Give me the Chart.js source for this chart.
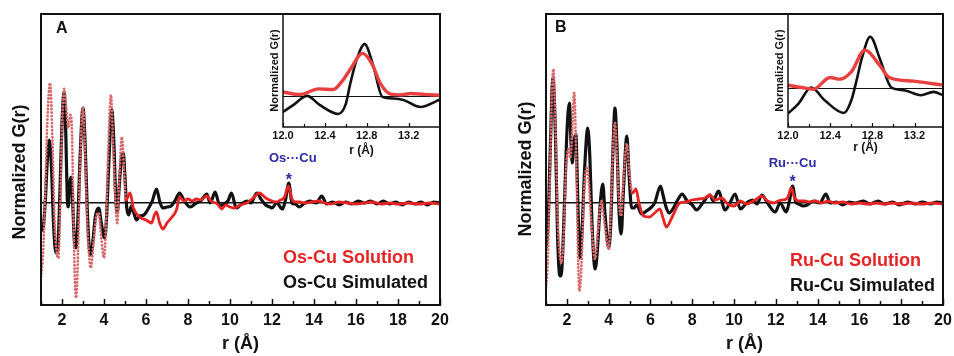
<!DOCTYPE html>
<html>
<head>
<meta charset="utf-8">
<script src="https://cdn.jsdelivr.net/npm/chart.js@4.4.1/dist/chart.umd.min.js"></script>
<style>
  body { margin: 0; background: #fff; }
  #wrap { position: relative; width: 954px; height: 356px; overflow: hidden; }
  canvas { position: absolute; }
</style>
</head>
<body>
<div id="wrap">
  <canvas id="mainA" width="477" height="356" style="left:0;top:0"></canvas>
  <canvas id="mainB" width="477" height="356" style="left:477px;top:0"></canvas>
  <canvas id="insetA" width="182" height="156" style="left:262px;top:4px"></canvas>
  <canvas id="insetB" width="180" height="156" style="left:767px;top:4px"></canvas>
</div>
<script>
// Os-Cu: simulated G(r)
const rSimA = [1.0,1.1,1.2,1.3,1.4,1.5,1.6,1.71,1.8,1.9,
  2.0,2.1,2.18,2.25,2.3,2.36,2.43,2.5,2.58,2.67,
  2.75,2.85,3.0,3.1,3.2,3.3,3.37,3.45,3.6,3.75,
  3.87,4.03,4.12,4.22,4.37,4.47,4.55,4.63,4.72,4.83,
  4.92,5.0,5.08,5.18,5.3,5.42,5.55,5.7,5.9,6.1,
  6.3,6.5,6.65,6.8,7.0,7.2,7.4,7.6,7.8,8.1,
  8.4,8.6,8.9,9.05,9.15,9.29,9.52,9.7,9.9,10.07,
  10.3,10.5,10.8,11.0,11.27,11.5,11.7,11.9,12.0,12.22,
  12.5,12.65,12.8,12.95,13.1,13.3,13.5,13.8,14.1,14.37,
  14.6,14.9,15.2,15.5,15.8,16.1,16.4,16.7,17.0,17.3,
  17.6,17.9,18.2,18.5,18.8,19.1,19.4,19.7,20.0];
const gSimA = [-0.28,-0.25,0.0,0.42,0.63,0.35,-0.22,-0.5,-0.45,0.1,
  0.8,1.11,0.7,0.05,-0.04,0.18,0.26,0.05,-0.35,-0.45,
  -0.2,0.4,0.95,0.6,-0.05,-0.45,-0.52,-0.42,-0.12,-0.05,
  -0.2,-0.35,-0.15,0.35,0.93,0.6,0.1,-0.1,0.15,0.45,
  0.5,0.25,-0.04,-0.12,-0.03,-0.1,-0.17,-0.13,-0.12,-0.06,
  0.02,0.14,0.02,-0.05,-0.04,-0.03,0.03,0.1,0.03,-0.04,
  0.0,0.02,0.09,0.0,0.04,0.11,-0.03,-0.01,0.02,0.1,
  -0.05,-0.02,0.02,0.0,0.1,0.03,-0.02,-0.04,-0.05,0.0,
  -0.06,0.04,0.2,0.0,-0.01,-0.04,-0.01,0.02,0.0,0.07,
  -0.01,0.01,-0.02,0.01,-0.01,0.02,0.0,0.02,-0.01,0.02,
  -0.01,0.01,-0.02,0.01,-0.01,0.01,-0.02,0.01,0.0];

// Os-Cu: solution (measured) G(r)
const rExpA = [1.0,1.1,1.2,1.3,1.43,1.55,1.65,1.75,1.83,1.92,
  2.0,2.1,2.2,2.3,2.4,2.47,2.55,2.62,2.67,2.75,
  2.85,3.0,3.1,3.2,3.3,3.37,3.5,3.65,3.75,3.87,
  4.0,4.1,4.2,4.33,4.43,4.55,4.63,4.72,4.85,4.95,
  5.05,5.24,5.4,5.7,6.0,6.27,6.4,6.5,6.65,6.8,
  7.0,7.2,7.45,7.6,7.8,8.0,8.2,8.4,8.6,8.9,
  9.1,9.4,9.6,9.8,10.0,10.2,10.5,10.8,11.1,11.4,
  11.7,12.0,12.2,12.4,12.6,12.78,12.95,13.1,13.3,13.6,
  13.9,14.2,14.5,14.8,15.2,15.6,16.0,16.4,16.8,17.2,
  17.6,18.0,18.5,19.0,19.5,20.0];
const gExpA = [-0.74,-0.5,0.1,0.8,1.2,0.6,-0.2,-0.5,-0.55,0.0,
  0.75,1.14,0.95,0.75,0.88,0.75,-0.2,-0.8,-0.95,-0.6,
  0.3,0.95,0.5,-0.2,-0.55,-0.65,-0.4,-0.12,-0.1,-0.35,
  -0.55,-0.2,0.5,1.08,0.6,0.0,-0.2,0.2,0.66,0.35,
  0.03,0.1,-0.05,-0.14,-0.17,-0.2,-0.12,-0.09,-0.2,-0.26,
  -0.2,-0.15,-0.07,0.06,0.02,0.04,0.02,0.04,0.03,0.07,
  0.02,-0.01,-0.06,-0.02,-0.04,-0.05,-0.02,0.0,0.05,0.1,
  0.05,0.02,0.01,0.03,0.06,0.17,0.04,0.01,0.01,0.0,
  0.01,0.02,0.0,-0.01,0.01,0.0,-0.01,0.0,0.01,-0.01,
  0.0,-0.01,0.0,-0.01,0.0,-0.01];

// Ru-Cu: simulated G(r)
const rSimB = [1.0,1.1,1.2,1.33,1.45,1.55,1.65,1.72,1.8,1.9,
  2.0,2.12,2.2,2.26,2.33,2.43,2.5,2.58,2.63,2.72,
  2.85,3.0,3.1,3.2,3.35,3.45,3.6,3.72,3.82,4.0,
  4.1,4.2,4.3,4.4,4.5,4.6,4.7,4.87,4.97,5.1,
  5.2,5.35,5.57,5.8,6.0,6.2,6.48,6.6,6.76,6.9,
  7.1,7.3,7.52,7.75,8.0,8.2,8.5,8.85,9.0,9.25,
  9.57,9.8,10.05,10.3,10.6,10.9,11.1,11.33,11.6,11.97,
  12.2,12.5,12.65,12.8,12.95,13.1,13.3,13.5,13.8,14.1,
  14.4,14.6,14.9,15.2,15.5,15.8,16.2,16.5,16.9,17.2,
  17.6,17.9,18.3,18.7,19.0,19.4,19.7,20.0];
const gSimB = [-0.45,-0.2,0.5,1.25,0.7,-0.3,-0.72,-0.73,-0.5,0.1,
  0.7,1.0,0.6,0.4,0.6,0.69,0.2,-0.4,-0.55,-0.3,
  0.35,0.75,0.45,-0.2,-0.66,-0.5,0.0,0.19,-0.1,-0.45,
  -0.2,0.5,0.95,0.55,-0.1,-0.31,0.1,0.67,0.3,-0.05,
  -0.05,-0.02,-0.11,-0.08,-0.05,0.0,0.17,0.08,-0.05,-0.1,
  -0.05,0.03,0.09,0.02,-0.02,-0.07,0.0,0.08,0.02,0.12,
  -0.07,0.0,0.09,-0.06,0.0,0.03,-0.01,0.08,0.0,-0.09,
  0.0,-0.09,0.02,0.17,0.01,-0.01,-0.03,-0.02,0.02,0.0,
  0.09,0.0,0.01,-0.02,0.01,0.0,0.02,-0.01,0.02,-0.01,
  0.01,-0.02,0.01,-0.01,0.01,-0.01,0.01,0.0];

// Ru-Cu: solution (measured) G(r)
const rExpB = [1.0,1.08,1.18,1.27,1.35,1.45,1.55,1.65,1.75,1.85,
  1.95,2.08,2.17,2.25,2.35,2.45,2.53,2.6,2.7,2.82,
  2.95,3.05,3.2,3.35,3.5,3.65,3.8,4.0,4.1,4.2,
  4.3,4.4,4.5,4.6,4.7,4.87,4.97,5.14,5.3,5.45,
  5.66,5.95,6.2,6.45,6.6,6.76,7.06,7.4,7.7,8.0,
  8.3,8.6,8.85,9.1,9.4,9.7,10.0,10.3,10.6,11.0,
  11.33,11.6,11.9,12.1,12.3,12.5,12.6,12.73,12.9,13.1,
  13.4,13.6,13.9,14.2,14.5,14.8,15.2,15.6,16.0,16.4,
  16.8,17.2,17.6,18.0,18.5,19.0,19.5,20.0];
const gExpB = [-0.85,-0.6,0.2,1.0,1.34,0.8,-0.1,-0.5,-0.6,-0.3,
  0.3,0.54,0.45,0.7,1.1,0.4,-0.5,-0.88,-0.6,0.1,
  0.35,0.2,-0.3,-0.56,-0.25,0.02,-0.2,-0.46,-0.1,0.5,
  0.8,0.45,0.0,-0.13,0.2,0.59,0.35,0.1,0.14,0.0,
  -0.13,-0.14,-0.1,-0.06,-0.15,-0.24,-0.13,0.0,0.01,0.03,
  0.04,0.05,0.08,0.03,0.05,-0.01,-0.03,0.02,-0.01,0.03,
  0.07,0.02,0.0,0.02,0.03,0.04,0.07,0.15,0.05,0.02,
  0.02,0.01,0.02,0.0,0.02,0.0,0.01,-0.01,0.0,-0.01,
  0.0,-0.01,0.0,-0.01,0.0,-0.01,0.0,-0.01];

// close-up of the 12-13.5 A region (own scale)
const rInSimA = [12.0,12.1,12.23,12.35,12.53,12.6,12.64,12.7,12.78,12.86,12.95,13.06,13.15,13.31,13.5];
const gInSimA = [-0.15,-0.08,0.01,-0.08,-0.17,-0.07,0.12,0.36,0.527,0.32,0.0,-0.016,-0.03,-0.10,-0.026];
const rInExpA = [12.0,12.16,12.34,12.48,12.56,12.64,12.76,12.85,12.93,13.03,13.12,13.22,13.35,13.5];
const gInExpA = [0.05,0.024,0.08,0.074,0.15,0.27,0.434,0.33,0.134,0.027,0.02,0.034,0.025,0.017];
const rInSimB = [12.0,12.1,12.22,12.35,12.53,12.6,12.65,12.7,12.78,12.87,12.98,13.1,13.26,13.38,13.47];
const gInSimB = [-0.25,-0.15,0.01,-0.12,-0.244,-0.12,0.08,0.3,0.516,0.3,0.01,-0.017,-0.067,-0.034,-0.067];
const rInExpB = [12.0,12.13,12.24,12.4,12.49,12.6,12.73,12.87,12.96,13.19,13.47];
const gInExpB = [0.033,0.01,-0.007,0.11,0.093,0.166,0.383,0.23,0.11,0.073,0.033];

const FONT = "'Liberation Sans', Arial, sans-serif";
const INK = '#111';
const RED = '#e62424';
const PINK = '#d8686a';
const BLUE = '#2b2ba6';

Chart.defaults.font.family = FONT;
Chart.defaults.color = INK;

const pts = (rs, gs) => rs.map((r, i) => ({ x: r, y: gs[i] }));

// box round the plot area
const frame = {
  id: 'frame',
  afterDatasetsDraw(chart, args, o) {
    const { ctx, chartArea: a } = chart;
    ctx.save();
    ctx.strokeStyle = INK;
    ctx.lineWidth = o.width;
    ctx.strokeRect(a.left, a.top, a.right - a.left, a.bottom - a.top);
    ctx.restore();
  }
};

// tick marks pointing into the plot
const inTicks = {
  id: 'inTicks',
  afterDatasetsDraw(chart, args, o) {
    const { ctx, chartArea: a, scales: { x } } = chart;
    ctx.save();
    ctx.strokeStyle = INK;
    ctx.lineWidth = o.width;
    x.ticks.forEach(t => {
      const q = t.value / o.step;
      if (Math.abs(q - Math.round(q)) > 1e-6) return;
      const len = Math.round(q) % 2 === 0 ? o.major : o.minor;
      const px = Math.round(x.getPixelForValue(t.value)) + 0.5;
      ctx.beginPath();
      ctx.moveTo(px, a.bottom);
      ctx.lineTo(px, a.bottom - len);
      ctx.stroke();
    });
    ctx.restore();
  }
};

// panel letter, y title, series names and the M...Cu marker
const panelText = {
  id: 'panelText',
  afterDraw(chart, args, o) {
    const { ctx, scales: { x, y } } = chart;
    ctx.save();
    ctx.fillStyle = INK;
    ctx.textBaseline = 'middle';
    ctx.textAlign = 'left';
    ctx.font = `bold 16px ${FONT}`;
    ctx.fillText(o.letter, o.letterX, o.letterY);

    ctx.save();
    ctx.translate(o.titleX, o.titleY);
    ctx.rotate(-Math.PI / 2);
    ctx.textAlign = 'center';
    ctx.font = `bold 18px ${FONT}`;
    ctx.fillText('Normalized G(r)', 0, 0);
    ctx.restore();

    ctx.font = `bold 18px ${FONT}`;
    chart.data.datasets.forEach((ds, i) => {
      ctx.fillStyle = ds.keyColor;
      ctx.fillText(ds.label, o.keyX, o.keyY + i * 25);
    });

    const px = x.getPixelForValue(o.noteR);
    ctx.fillStyle = BLUE;
    ctx.textAlign = 'center';
    ctx.font = `bold 13px ${FONT}`;
    ctx.fillText(o.note, px + o.noteDx, y.getPixelForValue(o.noteY));
    ctx.textBaseline = 'alphabetic';
    ctx.font = `bold 16px ${FONT}`;
    ctx.fillText('*', px, y.getPixelForValue(o.starY));
    ctx.restore();
  }
};

// keep the x axis from widening the side margins for its end labels
const noLabelMargins = s => { s.paddingLeft = 0; s.paddingRight = 0; };

function mainChart(id, sim, exp, cfg) {
  return new Chart(document.getElementById(id), {
    type: 'line',
    data: {
      datasets: [
        {
          label: cfg.expLabel, keyColor: RED, data: exp,
          borderColor: RED, borderWidth: 2.8, borderCapStyle: 'round',
          pointRadius: 0, cubicInterpolationMode: 'monotone',
          segment: {
            // below 5 A the measured points spread out into separate circles
            borderDash: c => exp[c.p0DataIndex].x < 5 ? [0.1, 3.4] : undefined,
            borderColor: c => exp[c.p0DataIndex].x < 5 ? PINK : RED
          }
        },
        {
          label: cfg.simLabel, keyColor: INK, data: sim,
          borderColor: INK, borderWidth: 3.2,
          pointRadius: 0, cubicInterpolationMode: 'monotone'
        }
      ]
    },
    options: {
      responsive: false,
      animation: false,
      events: [],
      layout: { padding: { top: 14, right: cfg.padRight, left: 0, bottom: 0 } },
      plugins: {
        legend: { display: false },
        tooltip: { enabled: false },
        frame: { width: 2 },
        inTicks: { step: 1, major: 6, minor: 4, width: 1.5 },
        panelText: cfg.text
      },
      scales: {
        x: {
          type: 'linear', min: 1, max: 20,
          grid: { display: false, drawTicks: false },
          border: { display: false },
          ticks: {
            stepSize: 1, autoSkip: false, maxRotation: 0, padding: 6,
            color: INK, font: { size: 16, weight: 'bold' },
            callback: v => v % 2 === 0 ? v : ''
          },
          title: {
            display: true, text: 'r (Å)', color: INK,
            font: { size: 18, weight: 'bold' }, padding: { top: 0, bottom: 1 }
          },
          afterFit: s => { s.height = 51; noLabelMargins(s); }
        },
        y: {
          min: -1.02, max: 1.89,
          grid: { color: INK, lineWidth: 1.5, drawTicks: false },
          border: { display: false },
          ticks: { display: false },
          afterBuildTicks: s => { s.ticks = [{ value: 0 }]; },
          afterFit: s => { s.width = cfg.yWidth; }
        }
      }
    },
    plugins: [frame, inTicks, panelText]
  });
}

function insetChart(id, sim, exp, cfg) {
  return new Chart(document.getElementById(id), {
    type: 'line',
    data: {
      datasets: [
        { data: exp, borderColor: '#e84040', borderWidth: 3.4, pointRadius: 0, cubicInterpolationMode: 'monotone' },
        { data: sim, borderColor: INK, borderWidth: 2.6, pointRadius: 0, cubicInterpolationMode: 'monotone' }
      ]
    },
    options: {
      responsive: false,
      animation: false,
      events: [],
      layout: { padding: { top: 10, right: 4, left: 0, bottom: 0 } },
      plugins: {
        legend: { display: false },
        tooltip: { enabled: false },
        frame: { width: 1.5 },
        inTicks: { step: 0.2, major: 4, minor: 3, width: 1.2 }
      },
      scales: {
        x: {
          type: 'linear', min: 12, max: cfg.xMax,
          grid: { display: false, drawTicks: false },
          border: { display: false },
          ticks: {
            stepSize: 0.2, autoSkip: false, maxRotation: 0, padding: 2,
            color: INK, font: { size: 11, weight: 'bold' },
            callback: v => Math.round(v * 10) % 4 === 0 ? v.toFixed(1) : ''
          },
          title: {
            display: true, text: 'r (Å)', color: INK,
            font: { size: 12, weight: 'bold' }, padding: { top: 0, bottom: cfg.titlePad }
          },
          afterFit: s => { s.height = 33; noLabelMargins(s); }
        },
        y: {
          min: cfg.yMin, max: cfg.yMax,
          grid: { color: INK, lineWidth: 1, drawTicks: false },
          border: { display: false },
          ticks: { display: false },
          title: {
            display: true, text: 'Normalized G(r)', color: INK,
            font: { size: 11, weight: 'bold' }, padding: { top: 6, bottom: 0 }
          },
          afterBuildTicks: s => { s.ticks = [{ value: 0 }]; },
          afterFit: s => { s.width = 21; }
        }
      }
    },
    plugins: [frame, inTicks]
  });
}

mainChart('mainA', pts(rSimA, gSimA), pts(rExpA, gExpA), {
  expLabel: 'Os-Cu Solution', simLabel: 'Os-Cu Simulated',
  padRight: 37, yWidth: 41,
  text: {
    letter: 'A', letterX: 56, letterY: 29, titleX: 20, titleY: 172,
    keyX: 283, keyY: 258,
    note: 'Os\u00b7\u00b7\u00b7Cu', noteR: 12.8, noteY: 0.45, noteDx: 4, starY: 0.18
  }
});

mainChart('mainB', pts(rSimB, gSimB), pts(rExpB, gExpB), {
  expLabel: 'Ru-Cu Solution', simLabel: 'Ru-Cu Simulated',
  padRight: 11, yWidth: 69,
  text: {
    letter: 'B', letterX: 78, letterY: 28, titleX: 49, titleY: 169,
    keyX: 313, keyY: 261,
    note: 'Ru\u00b7\u00b7\u00b7Cu', noteR: 12.8, noteY: 0.40, noteDx: 0, starY: 0.16
  }
});

insetChart('insetA', pts(rInSimA, gInSimA), pts(rInExpA, gInExpA),
  { xMax: 13.5, yMin: -0.30, yMax: 0.827, titlePad: 2 });
insetChart('insetB', pts(rInSimB, gInSimB), pts(rInExpB, gInExpB),
  { xMax: 13.47, yMin: -0.384, yMax: 0.743, titlePad: 5 });
</script>
</body>
</html>
